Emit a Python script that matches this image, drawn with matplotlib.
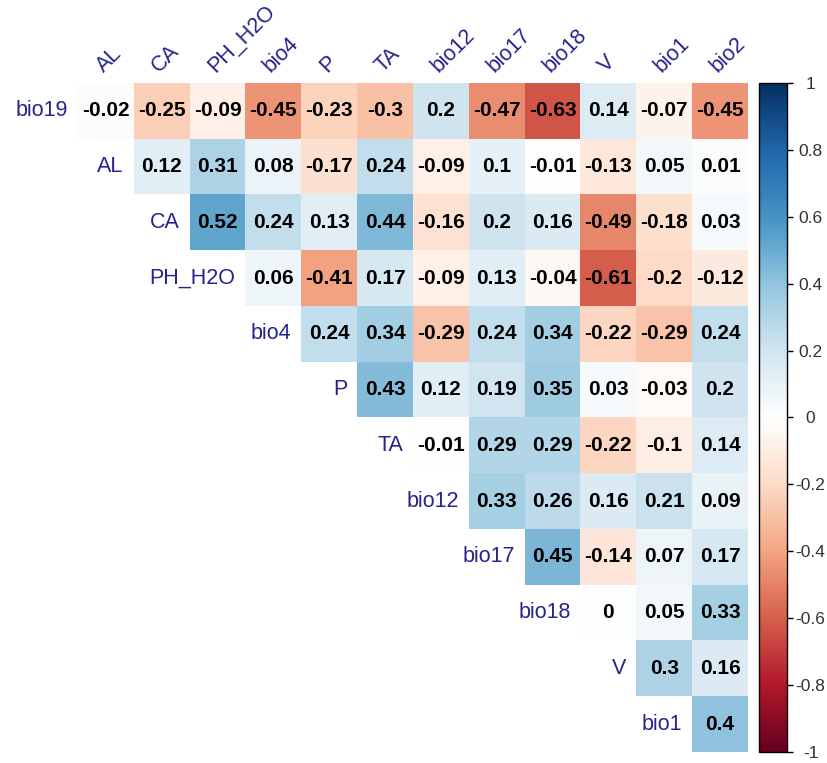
import numpy as np
import matplotlib
matplotlib.use('Agg')
import matplotlib.pyplot as plt
from matplotlib.colors import LinearSegmentedColormap, Normalize
from matplotlib.cm import ScalarMappable

plt.rcParams['font.family'] = ['Liberation Sans', 'DejaVu Sans']

row_names = ['bio19', 'AL', 'CA', 'PH_H2O', 'bio4', 'P', 'TA', 'bio12',
             'bio17', 'bio18', 'V', 'bio1']
col_names = ['AL', 'CA', 'PH_H2O', 'bio4', 'P', 'TA', 'bio12', 'bio17',
             'bio18', 'V', 'bio1', 'bio2']

# upper triangle, row by row (row i starts at column i)
r_bio19 = [-0.02, -0.25, -0.09, -0.45, -0.23, -0.3, 0.2, -0.47, -0.63, 0.14, -0.07, -0.45]
r_al = [0.12, 0.31, 0.08, -0.17, 0.24, -0.09, 0.1, -0.01, -0.13, 0.05, 0.01]
r_ca = [0.52, 0.24, 0.13, 0.44, -0.16, 0.2, 0.16, -0.49, -0.18, 0.03]
r_ph = [0.06, -0.41, 0.17, -0.09, 0.13, -0.04, -0.61, -0.2, -0.12]
r_bio4 = [0.24, 0.34, -0.29, 0.24, 0.34, -0.22, -0.29, 0.24]
r_p = [0.43, 0.12, 0.19, 0.35, 0.03, -0.03, 0.2]
r_ta = [-0.01, 0.29, 0.29, -0.22, -0.1, 0.14]
r_bio12 = [0.33, 0.26, 0.16, 0.21, 0.09]
r_bio17 = [0.45, -0.14, 0.07, 0.17]
r_bio18 = [0, 0.05, 0.33]
r_v = [0.3, 0.16]
r_bio1 = [0.4]
rows = [r_bio19, r_al, r_ca, r_ph, r_bio4, r_p, r_ta, r_bio12,
        r_bio17, r_bio18, r_v, r_bio1]

n = len(col_names)
mat = np.full((n, n), np.nan)
for i, r in enumerate(rows):
    mat[i, i:i + len(r)] = r

# corrplot RdBu palette
cmap = LinearSegmentedColormap.from_list('corrRdBu', [
    '#67001F', '#B2182B', '#D6604D', '#F4A582', '#FDDBC7', '#FFFFFF',
    '#D1E5F0', '#92C5DE', '#4393C3', '#2166AC', '#053061'], N=200)
norm = Normalize(-1, 1)
lab_col = '#24248C'

fig = plt.figure(figsize=(8.27, 7.63), dpi=100)
ax = fig.add_axes([78 / 827, 1 - 752 / 763, 670 / 827, 669 / 763])
ax.imshow(np.ma.masked_invalid(mat), cmap=cmap, norm=norm,
          extent=(-0.5, n - 0.5, n - 0.5, -0.5), aspect='auto',
          interpolation='nearest')
ax.set_xlim(-0.5, n - 0.5)
ax.set_ylim(n - 0.5, -0.5)
ax.axis('off')

for i in range(n):
    for j in range(i, n):
        v = mat[i, j]
        ax.text(j, i, f'{v:g}', ha='center', va='center', fontsize=15,
                fontweight='bold', color='black')
    ax.text(i - 0.68, i, row_names[i], ha='right', va='center',
            fontsize=15.5, color=lab_col)

for j, name in enumerate(col_names):
    ax.text(j + 0.02, -0.62, name, rotation=45, ha='left', va='bottom',
            rotation_mode='anchor', fontsize=15.5, color=lab_col,
            clip_on=False)

cax = fig.add_axes([759 / 827, 1 - 752 / 763, 28 / 827, 669 / 763])
cb = fig.colorbar(ScalarMappable(norm=norm, cmap=cmap), cax=cax)
ticks = np.round(np.arange(-1, 1.01, 0.2), 1)
cb.set_ticks(ticks)
cb.set_ticklabels([f'{t:g}' if t != 0 else '0' for t in ticks])
cb.outline.set_linewidth(1.0)
cax.tick_params(labelsize=12.5, length=4, width=1, colors='black',
                labelcolor='#333333', pad=13)
for t in cax.get_yticklabels():
    t.set_ha('center')

fig.savefig('out.png', dpi=100)
